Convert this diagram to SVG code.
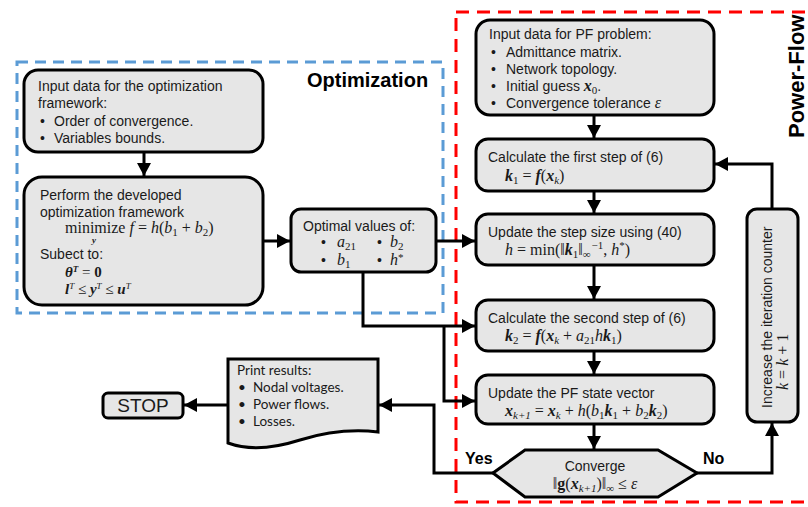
<svg xmlns="http://www.w3.org/2000/svg" width="808" height="507" viewBox="0 0 808 507">
<defs>
<marker id="ah" markerUnits="userSpaceOnUse" markerWidth="14" markerHeight="14" refX="13" refY="7" orient="auto">
<path d="M0,0 L13,7 L0,14 Z" fill="#000"/>
</marker>
<style>
.box{fill:#e6e6e6;stroke:#000;stroke-width:3}
.t{font-family:"Liberation Sans",Arial,sans-serif;font-size:14px;fill:#1a1a1a}
.c{font-family:Lato,"Open Sans",sans-serif;font-size:13.5px;fill:#1a1a1a}
.m{font-family:"Liberation Serif","Times New Roman",serif;font-size:16px;fill:#1a1a1a}
.m2{font-family:"Liberation Serif","Times New Roman",serif;font-size:15px;fill:#1a1a1a}
.i{font-style:italic}
.b{font-weight:bold}
.s{font-size:11px}
.sp{font-size:9px}
.lbl{font-family:"Liberation Sans",Arial,sans-serif;font-weight:bold;fill:#000}
.con{fill:none;stroke:#000;stroke-width:3}
</style>
</defs>
<rect x="17" y="62" width="426" height="251" fill="none" stroke="#5b9bd5" stroke-width="3" stroke-dasharray="11,7"/>
<rect x="456" y="12" width="370" height="490" fill="none" stroke="#ff0000" stroke-width="3" stroke-dasharray="13,8"/>
<text class="lbl" x="307" y="87" font-size="20">Optimization</text>
<text class="lbl" font-size="22" transform="translate(804,138) rotate(-90)">Power-Flow</text>

<g id="connectors">
<path class="con" d="M144,152 L144,176" marker-end="url(#ah)"/>
<path class="con" d="M263,241 L290,241" marker-end="url(#ah)"/>
<path class="con" d="M436,241 L475,241" marker-end="url(#ah)"/>
<path class="con" d="M363,272 L363,326 L475,326" marker-end="url(#ah)"/>
<path class="con" d="M444,326 L444,401 L475,401" marker-end="url(#ah)"/>
<path class="con" d="M594,115 L594,138" marker-end="url(#ah)"/>
<path class="con" d="M594,191 L594,213" marker-end="url(#ah)"/>
<path class="con" d="M594,265 L594,299" marker-end="url(#ah)"/>
<path class="con" d="M594,351 L594,374" marker-end="url(#ah)"/>
<path class="con" d="M594,424 L594,449" marker-end="url(#ah)"/>
<path class="con" d="M697,473 L772,473 L772,423" marker-end="url(#ah)"/>
<path class="con" d="M772,209 L772,164 L715,164" marker-end="url(#ah)"/>
<path class="con" d="M493,473 L434,473 L434,405 L379,405" marker-end="url(#ah)"/>
<path class="con" d="M228,405 L184,405" marker-end="url(#ah)"/>
</g>
<text class="lbl" x="465" y="464" font-size="16">Yes</text>
<text class="lbl" x="703" y="464" font-size="16">No</text>

<g id="opt-input">
<rect class="box" x="24" y="70" width="239" height="82" rx="14"/>
<text class="t" x="38" y="91">Input data for the optimization</text>
<text class="t" x="38" y="108">framework:</text>
<text class="t" x="40" y="126">•</text><text class="t" x="54" y="126">Order of convergence.</text>
<text class="t" x="40" y="143">•</text><text class="t" x="54" y="143">Variables bounds.</text>
</g>

<g id="opt-perform">
<rect class="box" x="24" y="177" width="239" height="128" rx="18"/>
<text class="t" x="40" y="200">Perform the developed</text>
<text class="t" x="40" y="217">optimization framework</text>
<text class="m" x="65" y="233">minimize <tspan class="i">f</tspan> = <tspan class="i">h</tspan>(<tspan class="i">b</tspan><tspan class="s" dy="3">1</tspan><tspan dy="-3"> + </tspan><tspan class="i">b</tspan><tspan class="s" dy="3">2</tspan><tspan dy="-3">)</tspan></text>
<text class="m2 i b" x="92" y="243" style="font-size:9px">y</text>
<text class="t" x="40" y="259">Subect to:</text>
<text class="m2" x="65" y="277"><tspan class="b i">θ</tspan><tspan class="sp b i" dy="-5">T</tspan><tspan dy="5"> = </tspan><tspan class="b">0</tspan></text>
<text class="m2" x="65" y="294"><tspan class="b i">l</tspan><tspan class="sp i" dy="-5">T</tspan><tspan dy="5"> ≤ </tspan><tspan class="b i">y</tspan><tspan class="sp i" dy="-5">T</tspan><tspan dy="5"> ≤ </tspan><tspan class="b i">u</tspan><tspan class="sp i" dy="-5">T</tspan></text>
</g>

<g id="optimal-values">
<rect class="box" x="291" y="209" width="145" height="63" rx="10"/>
<text class="t" x="303" y="231">Optimal values of:</text>
<text class="t" x="321" y="247">•</text><text class="m" x="337" y="247"><tspan class="i">a</tspan><tspan class="s" dy="3">21</tspan></text>
<text class="t" x="377" y="247">•</text><text class="m" x="390" y="247"><tspan class="i">b</tspan><tspan class="s" dy="3">2</tspan></text>
<text class="t" x="321" y="265">•</text><text class="m" x="337" y="265"><tspan class="i">b</tspan><tspan class="s" dy="3">1</tspan></text>
<text class="t" x="377" y="265">•</text><text class="m" x="390" y="265"><tspan class="i">h</tspan><tspan class="s" dy="-4">*</tspan></text>
</g>

<g id="pf-input">
<rect class="box" x="476" y="20" width="238" height="95" rx="14"/>
<text class="t" x="489" y="39">Input data for PF problem:</text>
<text class="t" x="491" y="57">•</text><text class="t" x="506" y="57">Admittance matrix.</text>
<text class="t" x="491" y="74">•</text><text class="t" x="506" y="74">Network topology.</text>
<text class="t" x="491" y="91">•</text><text class="t" x="506" y="91">Initial guess <tspan class="m b i">x</tspan><tspan class="m s" dy="3">0</tspan><tspan dy="-3">.</tspan></text>
<text class="t" x="491" y="108">•</text><text class="t" x="506" y="108">Convergence tolerance <tspan class="m i">ε</tspan></text>
</g>

<g id="pf-first-step">
<rect class="box" x="476" y="139" width="238" height="52" rx="12"/>
<text class="t" x="488" y="162">Calculate the first step of (6)</text>
<text class="m" x="505" y="181"><tspan class="b i">k</tspan><tspan class="s" dy="3">1</tspan><tspan dy="-3"> = </tspan><tspan class="b i">f</tspan>(<tspan class="b i">x</tspan><tspan class="s i" dy="3">k</tspan><tspan dy="-3">)</tspan></text>
</g>

<g id="pf-step-size">
<rect class="box" x="476" y="214" width="238" height="51" rx="12"/>
<text class="t" x="488" y="237">Update the step size using (40)</text>
<text class="m" x="505" y="255"><tspan class="i">h</tspan> = min(‖<tspan class="b i">k</tspan><tspan class="s" dy="3">1</tspan><tspan dy="-3">‖</tspan><tspan class="s" dy="3">∞</tspan><tspan class="s" dx="1" dy="-9">−1</tspan><tspan dy="6">, </tspan><tspan class="i">h</tspan><tspan class="s" dy="-6">*</tspan><tspan dy="6">)</tspan></text>
</g>

<g id="pf-second-step">
<rect class="box" x="476" y="300" width="238" height="51" rx="12"/>
<text class="t" x="488" y="323">Calculate the second step of (6)</text>
<text class="m" x="505" y="341"><tspan class="b i">k</tspan><tspan class="s" dy="3">2</tspan><tspan dy="-3"> = </tspan><tspan class="b i">f</tspan>(<tspan class="b i">x</tspan><tspan class="s i" dy="3">k</tspan><tspan dy="-3"> + </tspan><tspan class="i">a</tspan><tspan class="s" dy="3">21</tspan><tspan class="i" dy="-3">h</tspan><tspan class="b i">k</tspan><tspan class="s" dy="3">1</tspan><tspan dy="-3">)</tspan></text>
</g>

<g id="pf-update-state">
<rect class="box" x="476" y="375" width="238" height="49" rx="12"/>
<text class="t" x="488" y="398">Update the PF state vector</text>
<text class="m" x="505" y="416"><tspan class="b i">x</tspan><tspan class="s i" dy="3">k+1</tspan><tspan dy="-3"> = </tspan><tspan class="b i">x</tspan><tspan class="s i" dy="3">k</tspan><tspan dy="-3"> + </tspan><tspan class="i">h</tspan>(<tspan class="i">b</tspan><tspan class="s" dy="3">1</tspan><tspan class="b i" dy="-3">k</tspan><tspan class="s" dy="3">1</tspan><tspan dy="-3"> + </tspan><tspan class="i">b</tspan><tspan class="s" dy="3">2</tspan><tspan class="b i" dy="-3">k</tspan><tspan class="s" dy="3">2</tspan><tspan dy="-3">)</tspan></text>
</g>

<g id="converge">
<path class="box" d="M493,473 L525,450 L658,450 L697,473 L658,497 L525,497 Z"/>
<text class="t" x="595" y="471" text-anchor="middle">Converge</text>
<text class="m" x="595" y="489" text-anchor="middle">‖<tspan class="b">g</tspan>(<tspan class="b i">x</tspan><tspan class="s i" dy="3">k+1</tspan><tspan dy="-3">)‖</tspan><tspan class="s" dy="3">∞</tspan><tspan dy="-3"> ≤ </tspan><tspan class="i">ε</tspan></text>
</g>

<g id="increase-counter">
<rect class="box" x="747" y="209" width="51" height="213" rx="10"/>
<text class="t" transform="translate(772,408) rotate(-90)">Increase the iteration counter</text>
<text class="m" transform="translate(788,390) rotate(-90)"><tspan class="i">k</tspan> = <tspan class="i">k</tspan> + 1</text>
</g>

<g id="print-results">
<path class="box" d="M228,359 L378,359 L378,432 C352,429 326,432 300,440 C275,448 250,451 228,443 Z"/>
<text class="c" x="237" y="375">Print results:</text>
<text class="c" x="238" y="392">•</text><text class="c" x="253" y="392">Nodal voltages.</text>
<text class="c" x="238" y="409">•</text><text class="c" x="253" y="409">Power flows.</text>
<text class="c" x="238" y="426">•</text><text class="c" x="253" y="426">Losses.</text>
</g>

<g id="stop">
<rect class="box" x="103" y="393" width="80" height="25" rx="5"/>
<text class="t" x="143" y="412" style="font-size:19px" text-anchor="middle">STOP</text>
</g>
</svg>
